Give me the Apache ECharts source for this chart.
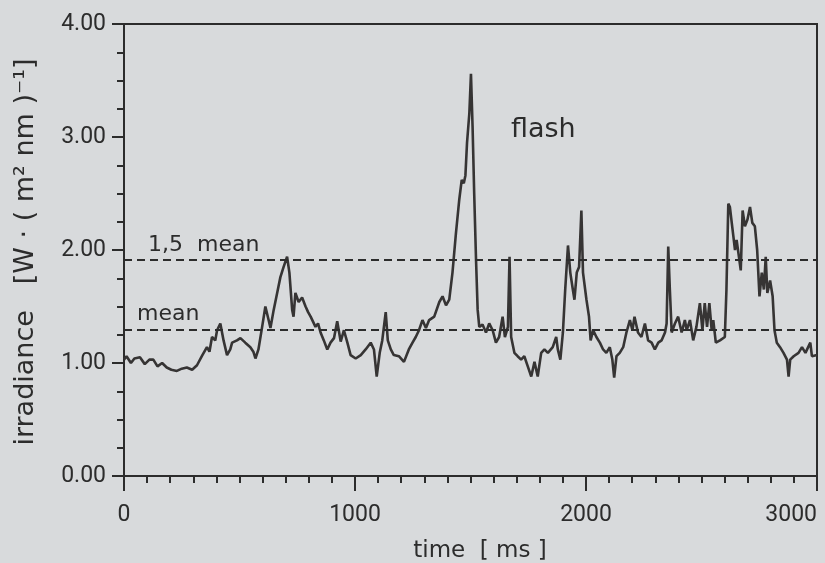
<!DOCTYPE html>
<html>
<head>
<meta charset="utf-8">
<script src="https://cdn.jsdelivr.net/npm/echarts@6/dist/echarts.min.js"></script>
<style>
html,body{margin:0;padding:0;background:#d8dadc;}
#c{width:825px;height:563px;}
</style>
</head>
<body>
<div id="c"></div>
<script>
// time in ms
var timeMs = [0,11,30,45,69,90,110,127,145,165,185,205,229,250,272,295,316,337,359,370,381,395,403,417,431,446,460,468,
489,504,525,547,560,569,582,598,612,626,634,648,663,677,691,706,716,728,734,742,756,771,786,797,808,829,840,851,865,880,894,909,923,938,952,967,981,
1003,1025,1046,1068,1082,1094,1107,1118,1133,1142,1155,1168,1190,1212,1233,1249,1263,1277,1292,1307,1321,1343,1365,1379,1394,1408,1422,1437,1451,1462,1471,1478,1485,1495,1502,1509,1516,1524,1531,1538,1552,1567,1581,1596,1610,1624,1639,1649,1662,1669,1676,1690,1704,1719,1733,1748,1763,1777,1791,1806,1820,1835,1856,1871,
1878,1889,1900,1910,1922,1932,1943,1950,1960,1970,1980,1987,2002,2013,2020,2031,2045,2060,2074,2088,2103,2114,2122,2132,2146,2161,2175,2190,2201,2210,2225,2240,2255,2269,2284,2298,2313,2327,2342,2349,2356,2363,2371,2385,2399,2414,2428,2436,2450,2464,2478,2493,2504,2514,2524,2534,2544,2551,2562,2580,2601,2608,2616,2623,2631,2638,2645,2652,2660,2670,2678,2688,2699,2710,2720,2731,2741,2751,2761,2770,2778,2785,2797,2808,2816,2826,2840,2855,2870,2877,2884,2899,2920,2935,2950,2971,2978,3000];
// irradiance in W (m^2 nm)^-1
var irradiance = [1.03,1.06,1.00,1.04,1.05,0.99,1.03,1.03,0.97,1.00,0.96,0.94,0.93,0.95,0.96,0.94,0.98,1.06,1.14,1.10,1.23,1.20,1.29,1.35,1.20,1.07,1.12,1.18,
1.20,1.22,1.18,1.14,1.10,1.04,1.12,1.32,1.50,1.38,1.31,1.47,1.62,1.76,1.85,1.94,1.80,1.47,1.41,1.62,1.54,1.58,1.50,1.45,1.41,1.32,1.35,1.27,1.20,1.12,1.18,1.22,1.37,1.19,1.29,1.18,1.07,
1.04,1.07,1.12,1.18,1.12,0.88,1.09,1.20,1.45,1.20,1.12,1.07,1.06,1.01,1.12,1.18,1.23,1.29,1.38,1.31,1.38,1.41,1.54,1.59,1.51,1.56,1.80,2.15,2.44,2.62,2.59,2.66,2.95,3.21,3.56,3.09,2.50,1.91,1.47,1.32,1.34,1.27,1.35,1.29,1.18,1.23,1.41,1.23,1.32,1.94,1.23,1.09,1.06,1.03,1.06,0.97,0.88,1.01,0.88,1.09,1.12,1.09,1.14,1.23,
1.12,1.03,1.27,1.65,2.04,1.80,1.65,1.56,1.80,1.85,2.35,1.80,1.56,1.41,1.20,1.29,1.23,1.18,1.12,1.09,1.14,1.03,0.87,1.06,1.09,1.14,1.27,1.38,1.29,1.41,1.27,1.23,1.35,1.20,1.18,1.12,1.18,1.20,1.27,1.35,2.03,1.65,1.27,1.35,1.41,1.27,1.38,1.29,1.38,1.20,1.32,1.53,1.29,1.53,1.32,1.53,1.29,1.38,1.18,1.20,1.23,1.65,2.41,2.38,2.24,2.12,2.00,2.09,1.97,1.82,2.35,2.21,2.27,2.38,2.24,2.21,2.00,1.59,1.80,1.65,1.94,1.62,1.73,1.59,1.29,1.18,1.14,1.09,1.03,0.88,1.03,1.06,1.09,1.14,1.09,1.18,1.06,1.07];
var meanValue = 1.29;
var meanLevels = [meanValue, 1.91];
var xTicks = [0, 1000, 2000, 3000];
var yTicks = ['0.00','1.00','2.00','3.00','4.00'];

var ink = '#2c2c2c';
var data = timeMs.map(function(t, i){ return [t, irradiance[i]]; });

var chart = echarts.init(document.getElementById('c'));
chart.setOption({
  backgroundColor: '#d8dadc',
  animation: false,
  grid: {left:124, right:8, top:24, bottom:87, outerBoundsMode:'none', containLabel:false, show:true, borderColor:ink, borderWidth:2, backgroundColor:'transparent'},
  xAxis: {
    type:'value', min:0, max:3000, interval:1000,
    axisLine:{show:true, lineStyle:{color:ink, width:2}},
    axisTick:{show:true, inside:false, length:15, lineStyle:{color:ink, width:2}},
    minorTick:{show:true, splitNumber:10, length:7, lineStyle:{color:ink, width:2}},
    splitLine:{show:false},
    axisLabel:{color:ink, fontFamily:'Roboto', fontSize:23, margin:28, showMinLabel:true, showMaxLabel:true, alignMaxLabel:'right', hideOverlap:false,
      formatter:function(v){ return xTicks.indexOf(v) >= 0 ? String(v) : ''; }}
  },
  yAxis: {
    type:'value', min:0, max:4, interval:1,
    axisLine:{show:true, lineStyle:{color:ink, width:2}},
    axisTick:{show:true, inside:false, length:12, lineStyle:{color:ink, width:2}},
    minorTick:{show:true, splitNumber:4, length:7, lineStyle:{color:ink, width:2}},
    splitLine:{show:false},
    axisLabel:{color:ink, fontFamily:'Roboto', fontSize:23, margin:18, showMinLabel:true, showMaxLabel:true,
      formatter:function(v){ return yTicks[Math.round(v)]; }}
  },
  series: [{
    type:'line', data:data, showSymbol:false, symbol:'none',
    lineStyle:{color:'#363434', width:2.6},
    markLine:{
      silent:true, symbol:['none','none'], label:{show:false},
      lineStyle:{color:ink, width:2, type:[8,5]},
      data: meanLevels.map(function(v){ return {yAxis:v}; })
    }
  }],
  graphic: [
    {type:'text', x:511, y:130, style:{text:'flash', fill:ink, fontFamily:'DejaVu Sans', fontSize:27, align:'left', verticalAlign:'middle'}},
    {type:'text', x:148, y:245, style:{text:'1,5  mean', fill:ink, fontFamily:'DejaVu Sans', fontSize:22, align:'left', verticalAlign:'middle'}},
    {type:'text', x:137, y:314, style:{text:'mean', fill:ink, fontFamily:'DejaVu Sans', fontSize:22, align:'left', verticalAlign:'middle'}},
    {type:'text', x:480, y:551, style:{text:'time  [ ms ]', fill:ink, fontFamily:'DejaVu Sans', fontSize:23, align:'center', verticalAlign:'middle'}},
    {type:'text', x:26, y:252, rotation:Math.PI/2, style:{text:'irradiance   [W · ( m\u00B2 nm )\u207B\u00B9]', fill:ink, fontFamily:'DejaVu Sans', fontSize:27, align:'center', verticalAlign:'middle'}}
  ]
});
</script>
</body>
</html>
